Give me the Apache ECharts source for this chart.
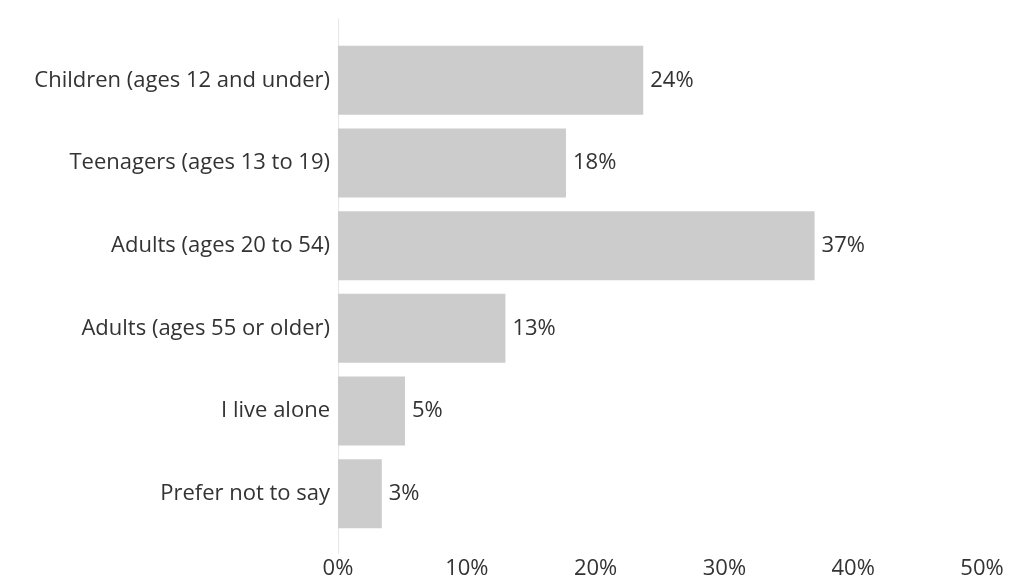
<!DOCTYPE html>
<html>
<head>
<meta charset="utf-8">
<script src="https://cdn.jsdelivr.net/npm/echarts@6/dist/echarts.min.js"></script>
<style>
  html, body { margin: 0; padding: 0; background: #fff; }
  #chart { width: 1032px; height: 581px; }
</style>
</head>
<body>
<div id="chart"></div>
<script>
  var categories = [
    'Children (ages 12 and under)',
    'Teenagers (ages 13 to 19)',
    'Adults (ages 20 to 54)',
    'Adults (ages 55 or older)',
    'I live alone',
    'Prefer not to say'
  ];
  var shares = [23.7, 17.7, 37.0, 13.0, 5.2, 3.4];
  var ticks = [0, 10, 20, 30, 40, 50];

  var font = 'Open Sans';
  var chart = echarts.init(document.getElementById('chart'));
  chart.setOption({
    animation: false,
    grid: [
      { left: 338, right: 50, top: 39, bottom: 46 },
      // just for the long vertical baseline
      { left: 338, right: 50, top: 19, bottom: 28 }
    ],
    xAxis: [
      {
        type: 'value',
        min: ticks[0],
        max: ticks[ticks.length - 1],
        interval: 10,
        axisLine: { show: false },
        axisTick: { show: false },
        splitLine: { show: false },
        axisLabel: {
          formatter: '{value}%',
          color: '#333',
          fontFamily: font,
          fontSize: 22,
          margin: 23
        }
      },
      { gridIndex: 1, type: 'value', show: false }
    ],
    yAxis: [
      {
        type: 'category',
        inverse: true,
        data: categories,
        axisLine: { show: false },
        axisTick: { show: false },
        axisLabel: {
          color: '#333',
          fontFamily: font,
          fontSize: 22,
          margin: 8
        }
      },
      {
        gridIndex: 1,
        type: 'value',
        axisLine: { show: true, lineStyle: { color: '#e6e6e6', width: 1 } },
        axisTick: { show: false },
        axisLabel: { show: false },
        splitLine: { show: false }
      }
    ],
    series: [
      {
        type: 'bar',
        data: shares,
        barWidth: 69,
        itemStyle: { color: '#cccccc' },
        label: {
          show: true,
          position: 'right',
          distance: 7,
          color: '#333',
          fontFamily: font,
          fontSize: 22,
          formatter: function (p) { return Math.round(p.value) + '%'; }
        }
      }
    ]
  });
</script>
</body>
</html>
